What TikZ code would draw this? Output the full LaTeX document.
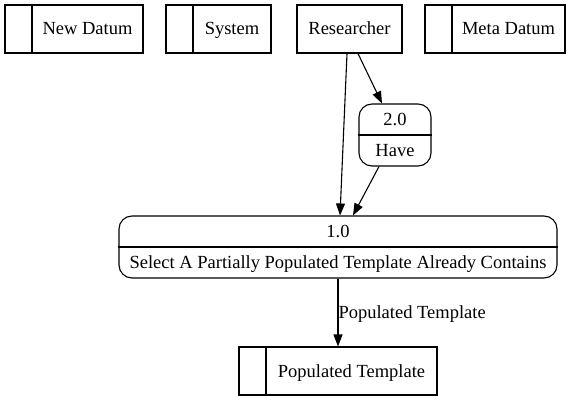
\documentclass[tikz,border=0pt]{standalone}
\usepackage{fontspec}
\setmainfont{Liberation Serif}
\usetikzlibrary{arrows.meta,calc}
\begin{document}
\begin{tikzpicture}[x=1pt,y=-1pt,
  every node/.style={font=\fontsize{18.5}{21}\selectfont},
  box/.style={draw,line width=1.1pt,minimum height=48pt,inner sep=0pt},
  proc/.style={draw,line width=1.1pt,rounded corners=13pt,minimum height=62pt,inner sep=0pt},
  txt/.style={inner sep=0pt,text height=12pt,text depth=0pt},
  divider/.style={line width=1.1pt},
  arr/.style={line width=1.1pt,-{Triangle[length=12pt,width=9pt]}}]
\useasboundingbox (0,0) rectangle (571,401);
% top row
\node[box,minimum width=138pt] (nd) at (74,29) {};
\draw[divider] (32,5) -- (32,53);
\node[txt] (ndt) at (87.5,29) {New Datum};
\node[box,minimum width=105pt] (sys) at (218.5,29) {};
\draw[divider] (193,5) -- (193,53);
\node[txt] (syst) at (232,29) {System};
\node[box,minimum width=105pt] (res) at (349.5,29) {};
\node[txt] (rest) at (349.5,29) {Researcher};
\node[box,minimum width=140pt] (md) at (495,29) {};
\draw[divider] (452,5) -- (452,53);
\node[txt] (mdt) at (508.5,29) {Meta Datum};
% process 2.0
\node[proc,minimum width=72pt] (p2) at (395,135) {};
\draw[divider] (p2.west) -- (p2.east);
\node[txt] (p2a) at (395,119.5) {2.0};
\node[txt] (p2b) at (395,150.5) {Have};
% process 1.0
\node[proc,minimum width=438pt] (p1) at (338,247) {};
\draw[divider] (p1.west) -- (p1.east);
\node[txt] (p1a) at (338,231.5) {1.0};
\node[txt] (p1b) at (338,262.5) {Select A Partially Populated Template Already Contains};
% store populated template
\node[box,minimum width=198pt] (pt) at (338,371) {};
\draw[divider] (266,347) -- (266,395);
\node[txt] (ptt) at (351.5,371) {Populated Template};
% edges
\draw[arr] ([xshift=-2.5pt]res.south) -- ([xshift=2pt]p1.north);
\draw[arr] ([xshift=8.5pt]res.south) -- ([xshift=-13pt]p2.north);
\draw[arr] ([xshift=-16pt]p2.south) -- ([xshift=15pt]p1.north);
\draw[arr] (p1.south) -- node[txt,anchor=west,pos=0.5] {Populated Template} (pt.north);
\end{tikzpicture}
\end{document}
